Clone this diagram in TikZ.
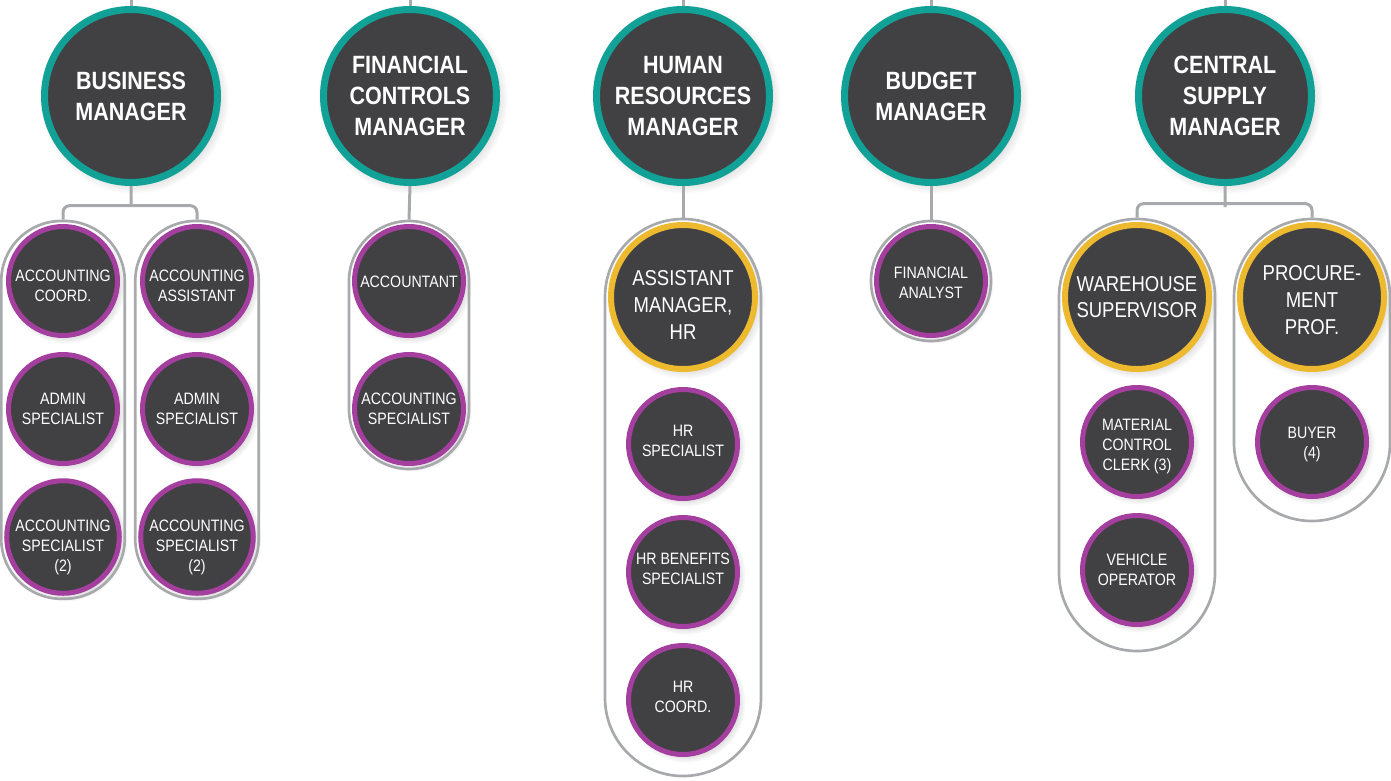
\documentclass[tikz,border=0pt]{standalone}
\usepackage{fontspec}
\setmainfont{Liberation Sans}[FakeStretch=0.86]
\usetikzlibrary{fit,shadows}
\definecolor{darkfill}{HTML}{414042}
\definecolor{tealring}{HTML}{12A197}
\definecolor{goldring}{HTML}{EDB92F}
\definecolor{purplering}{HTML}{A43E9F}
\definecolor{linegray}{HTML}{A7A9AC}
\newcommand\dropped[2]{\raisebox{-#1}[\height][\depth]{\begin{tabular}{@{}c@{}}#2\end{tabular}}}
\tikzset{
  base/.style={circle,fill=darkfill,text=white,align=center,inner sep=0pt,
    circular drop shadow={shadow xshift=1.5pt,shadow yshift=-1.5pt,opacity=.3}},
  manager/.style={base,draw=tealring,line width=4.2pt,minimum size=103.8pt,
    font=\bfseries\fontsize{15}{18.5}\selectfont},
  lead/.style={base,draw=goldring,line width=3.6pt,minimum size=86.4pt,
    font=\fontsize{12.9}{16}\selectfont},
  staff/.style={base,draw=purplering,line width=3pt,minimum size=65.4pt,
    font=\fontsize{9.9}{12}\selectfont},
  capsule/.style={draw=linegray,line width=1.6pt,inner sep=1.8pt,rounded corners=36pt},
  widecapsule/.style={capsule,rounded corners=46.8pt},
  link/.style={draw=linegray,line width=1.8pt,rounded corners=4pt}
}
\begin{document}
\begin{tikzpicture}[x=0.6pt,y=0.6pt]
\useasboundingbox (0,0) rectangle (1391,-780);
\coordinate (top) at (0,0);
% managers
\node[manager] (bm) at (131,-96) {BUSINESS\\MANAGER};
\node[manager] (fcm) at (410,-96) {FINANCIAL\\CONTROLS\\MANAGER};
\node[manager] (hrm) at (683,-96) {HUMAN\\RESOURCES\\MANAGER};
\node[manager] (bgm) at (931,-96) {BUDGET\\MANAGER};
\node[manager] (csm) at (1225,-96) {CENTRAL\\SUPPLY\\MANAGER};
\foreach \m in {bm,fcm,hrm,bgm,csm} \draw[link] (\m.north) -- (\m.north |- top);
% business
\node[staff] (ac) at (63,-281) {\dropped{3.6pt}{ACCOUNTING\\COORD.}};
\node[staff] (asl) at (63,-409) {ADMIN\\SPECIALIST};
\node[staff] (acsl) at (63,-537) {\dropped{6pt}{ACCOUNTING\\SPECIALIST\\(2)}};
\node[staff] (aa) at (197,-281) {\dropped{3.6pt}{ACCOUNTING\\ASSISTANT}};
\node[staff] (asr) at (197,-409) {ADMIN\\SPECIALIST};
\node[staff] (acsr) at (197,-537) {\dropped{6pt}{ACCOUNTING\\SPECIALIST\\(2)}};
\node[capsule,fit=(ac)(acsl)] (bmcapl) {};
\node[capsule,fit=(aa)(acsr)] (bmcapr) {};
\draw[link] (bmcapl.north) -- ++(0,14) -| (bmcapr.north) (bm.south) -- ++(0,-21);
% financial controls
\node[staff] (acct) at (409,-281) {\dropped{1.2pt}{ACCOUNTANT}};
\node[staff] (acsp) at (409,-409) {ACCOUNTING\\SPECIALIST};
\node[capsule,fit=(acct)(acsp)] (fccap) {};
\draw[link] (fcm.south) -- (fccap.north);
% human resources
\node[lead] (ahr) at (683,-297) {\dropped{6pt}{ASSISTANT\\MANAGER,\\HR}};
\node[staff] (hrs) at (683,-444) {\dropped{-1.2pt}{HR\\SPECIALIST}};
\node[staff] (hrb) at (683,-572) {\dropped{-1.2pt}{HR BENEFITS\\SPECIALIST}};
\node[staff] (hrc) at (683,-700) {\dropped{-1.2pt}{HR\\COORD.}};
\coordinate (hrend) at (683,-773);
\node[widecapsule,fit=(ahr)(hrend)] (hrcap) {};
\draw[link] (hrm.south) -- (hrcap.north);
% budget
\node[staff] (fa) at (931,-281) {\dropped{1.8pt}{FINANCIAL\\ANALYST}};
\node[capsule,fit=(fa)] (bgcap) {};
\draw[link] (bgm.south) -- (bgcap.north);
% central supply
\node[lead] (ws) at (1137,-297) {WAREHOUSE\\SUPERVISOR};
\node[staff] (mcc) at (1137,-442) {\dropped{2.4pt}{MATERIAL\\CONTROL\\CLERK (3)}};
\node[staff] (vo) at (1137,-570) {VEHICLE\\OPERATOR};
\coordinate (wsend) at (1137,-648);
\node[widecapsule,fit=(ws)(wsend)] (cscapl) {};
\node[lead] (pp) at (1312,-297) {\dropped{3pt}{PROCURE-\\MENT\\PROF.}};
\node[staff] (buy) at (1312,-442) {\dropped{1.2pt}{BUYER\\(4)}};
\coordinate (ppend) at (1312,-518);
\node[widecapsule,fit=(pp)(ppend)] (cscapr) {};
\draw[link] (cscapl.north) -- ++(0,14) -| (cscapr.north) (csm.south) -- ++(0,-21);
\end{tikzpicture}
\end{document}
